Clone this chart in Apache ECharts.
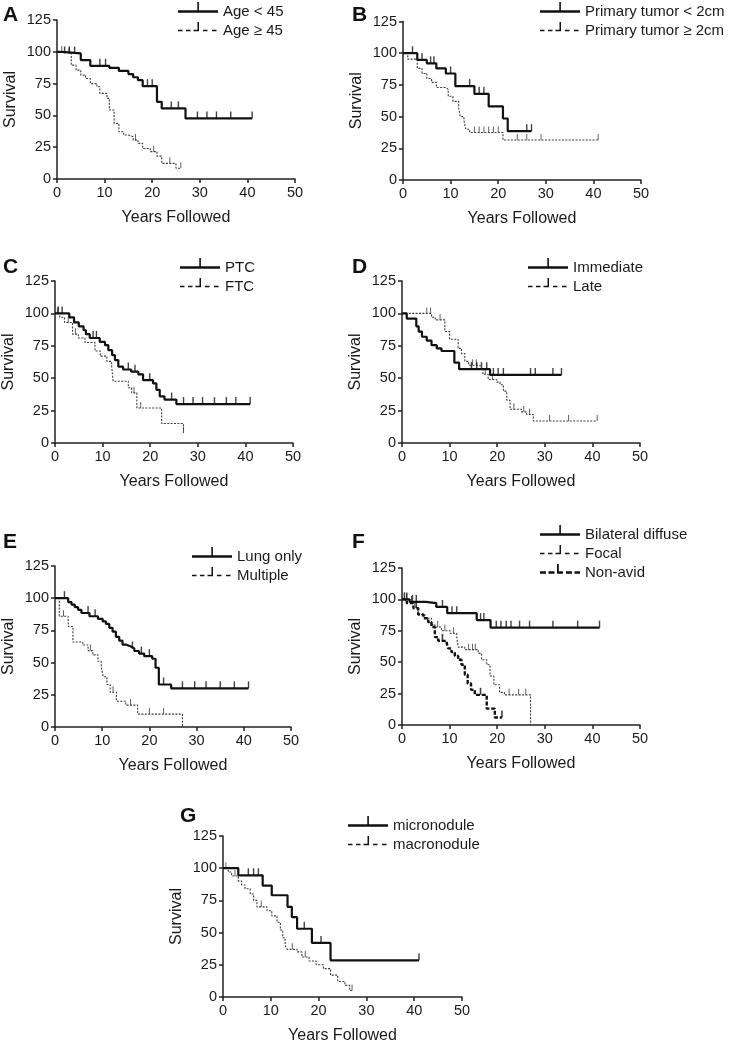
<!DOCTYPE html>
<html><head><meta charset="utf-8">
<script src="https://cdn.jsdelivr.net/npm/echarts@6/dist/echarts.min.js"></script>
<style>html,body{margin:0;padding:0;background:#fff}#c{width:729px;height:1042px}</style>
</head><body><div id="c"></div>
<script>
// ---------------- data ----------------
const panelLetters = ['A', 'B', 'C', 'D', 'E', 'F', 'G'];
const xAxisTitle = 'Years Followed';
const yAxisTitle = 'Survival';
const xMin = 0, xMax = 50, xStep = 10;
const yMin = 0, yMax = 125, yStep = 25;

// A
const ageLtName = 'Age < 45';
const ageLtSteps = [[0,100],[1,98.7],[5,93.5],[7,89],[11,87.4],[13,85],[15,82.5],[16,80],[17,77.7],[18,73],[21,60.7],[22,55.5],[27,47.6],[41,47.6]];
const ageLtCensored = [[1.6,98.7],[2.6,98.7],[3.7,98.7],[9,89],[10.2,89],[19,73],[20,73],[24,55.5],[25.5,55.5],[29.5,47.6],[31.5,47.6],[33.5,47.6],[36.5,47.6],[41,47.6]];
const ageGeName = 'Age ≥ 45';
const ageGeSteps = [[0,100],[2,98.7],[3,89.5],[4,85.6],[5,81.7],[6,79],[7,75],[8.4,72.5],[9,67.3],[10.5,63.4],[11,54.2],[12,43.7],[13,37.2],[14,34.6],[15,33.2],[16,30.6],[17,28],[18,24],[19.6,21.5],[21,18],[22,12.3],[25,8.5],[26,8.5]];
const ageGeCensored = [[1,100],[2.5,98.7],[16.5,30.6],[20.3,21.5],[23.7,12.3],[26,8.5]];

// B
const tumorLtName = 'Primary tumor < 2cm';
const tumorLtSteps = [[0,100],[3,94.7],[5,92],[7,88],[9,84],[11,74],[15,68],[18,58],[21,48.5],[22,38.5],[27,38.5]];
const tumorLtCensored = [[2,100],[4,94.7],[5.8,92],[6.5,92],[10,84],[14,74],[16,68],[17,68],[26,38.5],[27,38.5]];
const tumorGeName = 'Primary tumor ≥ 2cm';
const tumorGeSteps = [[0,100],[1,95.3],[3,88],[4,84],[5,80],[6,77],[7,73],[9,71.5],[9.5,66],[10.5,62],[11.7,57],[12,50],[12.8,47],[13.2,40],[14,37.5],[21,31.6],[41,31.6]];
const tumorGeCensored = [[15,37.5],[16,37.5],[17,37.5],[18,37.5],[19,37.5],[20,37.5],[24,31.6],[26,31.6],[29,31.6],[41,31.6]];

// C
const ptcName = 'PTC';
const ptcSteps = [[0,100],[3,97],[4,93],[5,90],[6,87],[6.5,84],[7.3,81],[9.4,78],[10.5,75.5],[11.2,71.6],[12,67.8],[12.6,64],[13.3,59],[14.3,56.7],[16,55],[17.5,53],[18.5,48.5],[20.6,46],[21.3,41],[22,36],[23,33.5],[25.5,30],[41,30]];
const ptcCensored = [[0.7,100],[1.5,100],[8,81],[8.7,81],[15.4,56.7],[16.8,55],[19.9,48.5],[24.5,33.5],[27,30],[29,30],[31,30],[33.5,30],[36,30],[38,30],[41,30]];
const ftcName = 'FTC';
const ftcSteps = [[0,100],[1,97],[2,93],[3.7,84],[4.9,81],[6.3,77.5],[8.4,71],[9.5,67],[10.9,63],[11.9,59.5],[12.2,47.7],[15.4,42.6],[16.1,38.7],[17.2,27],[22.4,15],[27,8]];
const ftcCensored = [[0.5,100],[2.8,93],[4.3,84],[16.6,38.7],[18,27],[27,8]];

// D
const immediateName = 'Immediate';
const immediateSteps = [[0,100],[1,96],[3,90],[3.5,86],[4.2,82],[5.2,79],[6.2,75.5],[7.3,73],[8.3,71],[11,62],[12,57],[18.5,52.5],[33.5,52.5]];
const immediateCensored = [[14.6,57],[15.7,57],[16.7,57],[17.8,57],[19.2,52.5],[20.2,52.5],[21.3,52.5],[27,52.5],[28,52.5],[31.7,52.5],[33.5,52.5]];
const lateName = 'Late';
const lateSteps = [[0,100],[6.2,97],[7,95],[9,86],[10,80],[11.8,73],[12.5,69],[13.2,63],[14,60],[16.4,57],[17,53],[18.1,49],[19.9,47],[20.6,45],[21.3,40],[22,33],[22.7,26],[25.1,24],[26.2,22],[27.6,17],[41,17]];
const lateCensored = [[5.2,100],[6,100],[8,95],[14.8,60],[15.6,60],[17.5,53],[19,49],[23.5,26],[25.6,24],[26.8,22],[31,17],[35,17],[41,17]];

// E
const lungName = 'Lung only';
const lungSteps = [[0,100],[2.8,97],[3.5,95],[4.2,93],[4.9,91],[5.6,88.5],[7.3,86],[9.1,84],[10.1,82],[10.8,80],[11.5,77],[12.2,74],[12.9,70],[13.6,67],[14.3,64],[15,62.5],[16.1,61],[16.8,59],[17.8,57],[18.9,55],[20.6,53],[21.3,46],[22,33],[24.6,30],[41,30]];
const lungCensored = [[2,100],[7,88.5],[8.5,86],[16.4,61],[18.3,57],[20,55],[23,33],[27,30],[29.6,30],[32,30],[35,30],[38,30],[41,30]];
const multipleName = 'Multiple';
const multipleSteps = [[0,100],[0.9,86],[2.8,78],[3.8,66],[5.9,63.7],[7,59.3],[8,56],[9.1,51],[9.8,47],[10.2,39],[11,33],[11.7,27],[13,20],[15,17],[17.5,10],[27,0]];
const multipleCensored = [[1.8,86],[7.5,59.3],[12.3,27],[16,17],[20,10],[23,10]];

// F
const bilateralName = 'Bilateral diffuse';
const bilateralSteps = [[0,100],[1.6,98],[5,97],[7.2,94],[9.5,89],[15.7,83.5],[18.6,77.5],[41.5,77.5]];
const bilateralCensored = [[1,100],[2.2,98],[3,98],[8.5,94],[10.5,89],[11.5,89],[16.5,83.5],[17.2,83.5],[19.8,77.5],[20.8,77.5],[21.9,77.5],[22.9,77.5],[24.7,77.5],[26.8,77.5],[31.7,77.5],[36.9,77.5],[41.5,77.5]];
const focalName = 'Focal';
const focalSteps = [[0,100],[1.7,98],[2.7,94],[3.4,88],[4.8,85],[6.2,80],[6.9,78],[8.3,75],[10.1,73],[11.5,70],[11.8,62],[13.2,60],[16,57],[16.7,52],[17.8,48],[18.5,39],[19.3,32],[20.5,26],[21.5,24],[27,0]];
const focalCensored = [[1,100],[2,98],[7.5,78],[9,75],[10.8,73],[14,60],[14.8,60],[15.4,60],[22.5,24],[24.5,24],[26,24]];
const nonAvidName = 'Non-avid';
const nonAvidSteps = [[0,100],[1,97],[2.4,93],[3.4,88],[4.5,85],[5.5,82],[6.2,78],[6.9,70],[7.6,67],[9.4,65],[9.7,61],[10.4,58],[11.1,55],[11.8,52],[12.5,48],[13.2,40],[13.8,33],[14.5,28],[15.3,24],[17.8,13],[19.5,6],[21,6]];
const nonAvidCensored = [[0.5,100],[3,93],[8.5,67],[16.5,24],[21,6]];

// G
const microName = 'micronodule';
const microSteps = [[0,100],[3.2,94.5],[8.3,86.5],[10.2,79],[13.5,70],[14.4,62],[15.5,53],[18.6,42],[22.5,28.5],[41,28.5]];
const microCensored = [[5.3,94.5],[6.4,94.5],[7.4,94.5],[17,53],[20.5,42],[41,28.5]];
const macroName = 'macronodule';
const macroSteps = [[0,100],[1.1,97],[1.8,94],[3.2,90],[3.9,87],[4.6,84],[5.7,80],[6.4,75],[7.1,70],[9.2,67],[10.2,63],[11.3,58],[12,52],[12.5,46],[13,40],[13.4,37],[15.5,35],[16.5,31],[18,28],[19.5,25],[21,22],[22.5,17],[24,12],[25.5,9],[26.5,5],[27,5]];
const macroCensored = [[0.6,100],[2.5,94],[8,70],[14.5,37],[17.2,31],[27,5]];

// ---------------- layout / style ----------------
const FONT = '"Liberation Sans", Arial, Helvetica, sans-serif';
const panels = [
  { grid:{left:57, top:20, width:238, height:159}, legend:{left:178, top:2},
    curves:[{name:ageLtName, steps:ageLtSteps, cens:ageLtCensored, kind:'solid'},
            {name:ageGeName, steps:ageGeSteps, cens:ageGeCensored, kind:'dot'}] },
  { grid:{left:403, top:21.5, width:238, height:158.5}, legend:{left:540, top:2},
    curves:[{name:tumorLtName, steps:tumorLtSteps, cens:tumorLtCensored, kind:'solid'},
            {name:tumorGeName, steps:tumorGeSteps, cens:tumorGeCensored, kind:'dot'}] },
  { grid:{left:55, top:281, width:238, height:162}, legend:{left:180, top:258},
    curves:[{name:ptcName, steps:ptcSteps, cens:ptcCensored, kind:'solid'},
            {name:ftcName, steps:ftcSteps, cens:ftcCensored, kind:'dot'}] },
  { grid:{left:402, top:281, width:238, height:162}, legend:{left:528, top:258},
    curves:[{name:immediateName, steps:immediateSteps, cens:immediateCensored, kind:'solid'},
            {name:lateName, steps:lateSteps, cens:lateCensored, kind:'dot'}] },
  { grid:{left:55, top:566, width:236, height:161}, legend:{left:192, top:547},
    curves:[{name:lungName, steps:lungSteps, cens:lungCensored, kind:'solid'},
            {name:multipleName, steps:multipleSteps, cens:multipleCensored, kind:'dot'}] },
  { grid:{left:402, top:568, width:238, height:157}, legend:{left:540, top:525},
    curves:[{name:bilateralName, steps:bilateralSteps, cens:bilateralCensored, kind:'solid'},
            {name:focalName, steps:focalSteps, cens:focalCensored, kind:'dot'},
            {name:nonAvidName, steps:nonAvidSteps, cens:nonAvidCensored, kind:'bold'}] },
  { grid:{left:223, top:836, width:239, height:161}, legend:{left:348, top:816},
    curves:[{name:microName, steps:microSteps, cens:microCensored, kind:'solid'},
            {name:macroName, steps:macroSteps, cens:macroCensored, kind:'dot'}] }
];
const letterPos = [[3,5],[352,5],[3,257],[352,257],[3,532],[352,532],[180,806]];

const kindStyle = {
  solid: { color:'#111', width:2.2, type:'solid', tick:[1.4,7], z:5 },
  dot:   { color:'#3a3a3a', width:1.1, type:[2,1.4], tick:[1,6], z:3 },
  bold:  { color:'#111', width:2.4, type:[4,1.8], tick:[1.6,7], z:4 }
};
// icons drawn in a 40x20 box, line centred at y=10
const PAD = ' M0,20L0,20Z M40,20L40,20Z';
const kindIcon = {
  solid: 'path://M0,8.8L40,8.8L40,11.2L0,11.2Z M19.3,0.5L20.9,0.5L20.9,8.8L19.3,8.8Z' + PAD,
  dot:   'path://M0,9.2L4.5,9.2L4.5,10.8L0,10.8Z M8,9.2L12.5,9.2L12.5,10.8L8,10.8Z M15.5,9.2L21,9.2L21,10.8L15.5,10.8Z M19.5,1.5L21,1.5L21,9.2L19.5,9.2Z M25,9.2L29.5,9.2L29.5,10.8L25,10.8Z M34,9.2L38.5,9.2L38.5,10.8L34,10.8Z' + PAD,
  bold:  'path://M0,8.7L6,8.7L6,11.3L0,11.3Z M8.5,8.7L14.5,8.7L14.5,11.3L8.5,11.3Z M17,8.7L23,8.7L23,11.3L17,11.3Z M17,1.5L18.8,1.5L18.8,8.7L17,8.7Z M26,8.7L32,8.7L32,11.3L26,11.3Z M34.5,8.7L40,8.7L40,11.3L34.5,11.3Z' + PAD
};

const grids = [], xAxes = [], yAxes = [], series = [], legends = [], graphics = [];
panels.forEach((p, i) => {
  grids.push(Object.assign({ containLabel:false, outerBoundsMode:'none' }, p.grid));
  xAxes.push({
    type:'value', gridIndex:i, min:xMin, max:xMax, interval:xStep,
    name:xAxisTitle, nameLocation:'middle', nameGap:31,
    nameTextStyle:{ fontSize:16, color:'#1a1a1a', fontFamily:FONT },
    axisLine:{ show:true, onZero:false, lineStyle:{ color:'#222', width:1.5 } },
    axisTick:{ show:true, length:4, lineStyle:{ color:'#222', width:1.5 } },
    axisLabel:{ fontSize:14.5, color:'#1a1a1a', fontFamily:FONT, margin:6 },
    splitLine:{ show:false }
  });
  yAxes.push({
    type:'value', gridIndex:i, min:yMin, max:yMax, interval:yStep,
    name:yAxisTitle, nameLocation:'middle', nameGap:38,
    nameTextStyle:{ fontSize:16, color:'#1a1a1a', fontFamily:FONT },
    axisLine:{ show:true, onZero:false, lineStyle:{ color:'#222', width:1.5 } },
    axisTick:{ show:true, length:4, lineStyle:{ color:'#222', width:1.5 } },
    axisLabel:{ fontSize:14.5, color:'#1a1a1a', fontFamily:FONT, margin:6 },
    splitLine:{ show:false }
  });
  p.curves.forEach(c => {
    const st = kindStyle[c.kind];
    series.push({
      type:'line', name:c.name, xAxisIndex:i, yAxisIndex:i, data:c.steps, step:'end',
      showSymbol:false, symbol:'none', silent:true, animation:false, z:st.z,
      color:st.color, lineStyle:{ color:st.color, width:st.width, type:st.type }
    });
    series.push({
      type:'scatter', name:c.name, xAxisIndex:i, yAxisIndex:i, data:c.cens,
      symbol:'rect', symbolSize:st.tick, symbolOffset:[0, -st.tick[1]/2],
      silent:true, animation:false, z:st.z,
      itemStyle:{ color:st.color }
    });
  });
  legends.push({
    left:p.legend.left, top:p.legend.top, orient:'vertical', itemWidth:40, itemHeight:20, itemGap:0.5,
    selectedMode:false, padding:0,
    textStyle:{ fontSize:15, color:'#1a1a1a', fontFamily:FONT },
    itemStyle:{ borderWidth:0 },
    data:p.curves.map(c => ({ name:c.name, icon:kindIcon[c.kind], itemStyle:{ color:'#111', borderWidth:0 } }))
  });
  graphics.push({
    type:'text', left:letterPos[i][0], top:letterPos[i][1],
    style:{ text:panelLetters[i], font:'bold 21px ' + FONT, fill:'#111' }
  });
});

const chart = echarts.init(document.getElementById('c'), null, { renderer:'canvas' });
chart.setOption({
  animation:false, backgroundColor:'#fff',
  grid:grids, xAxis:xAxes, yAxis:yAxes, series:series, legend:legends, graphic:graphics,
  tooltip:{ show:false }
});
</script></body></html>
